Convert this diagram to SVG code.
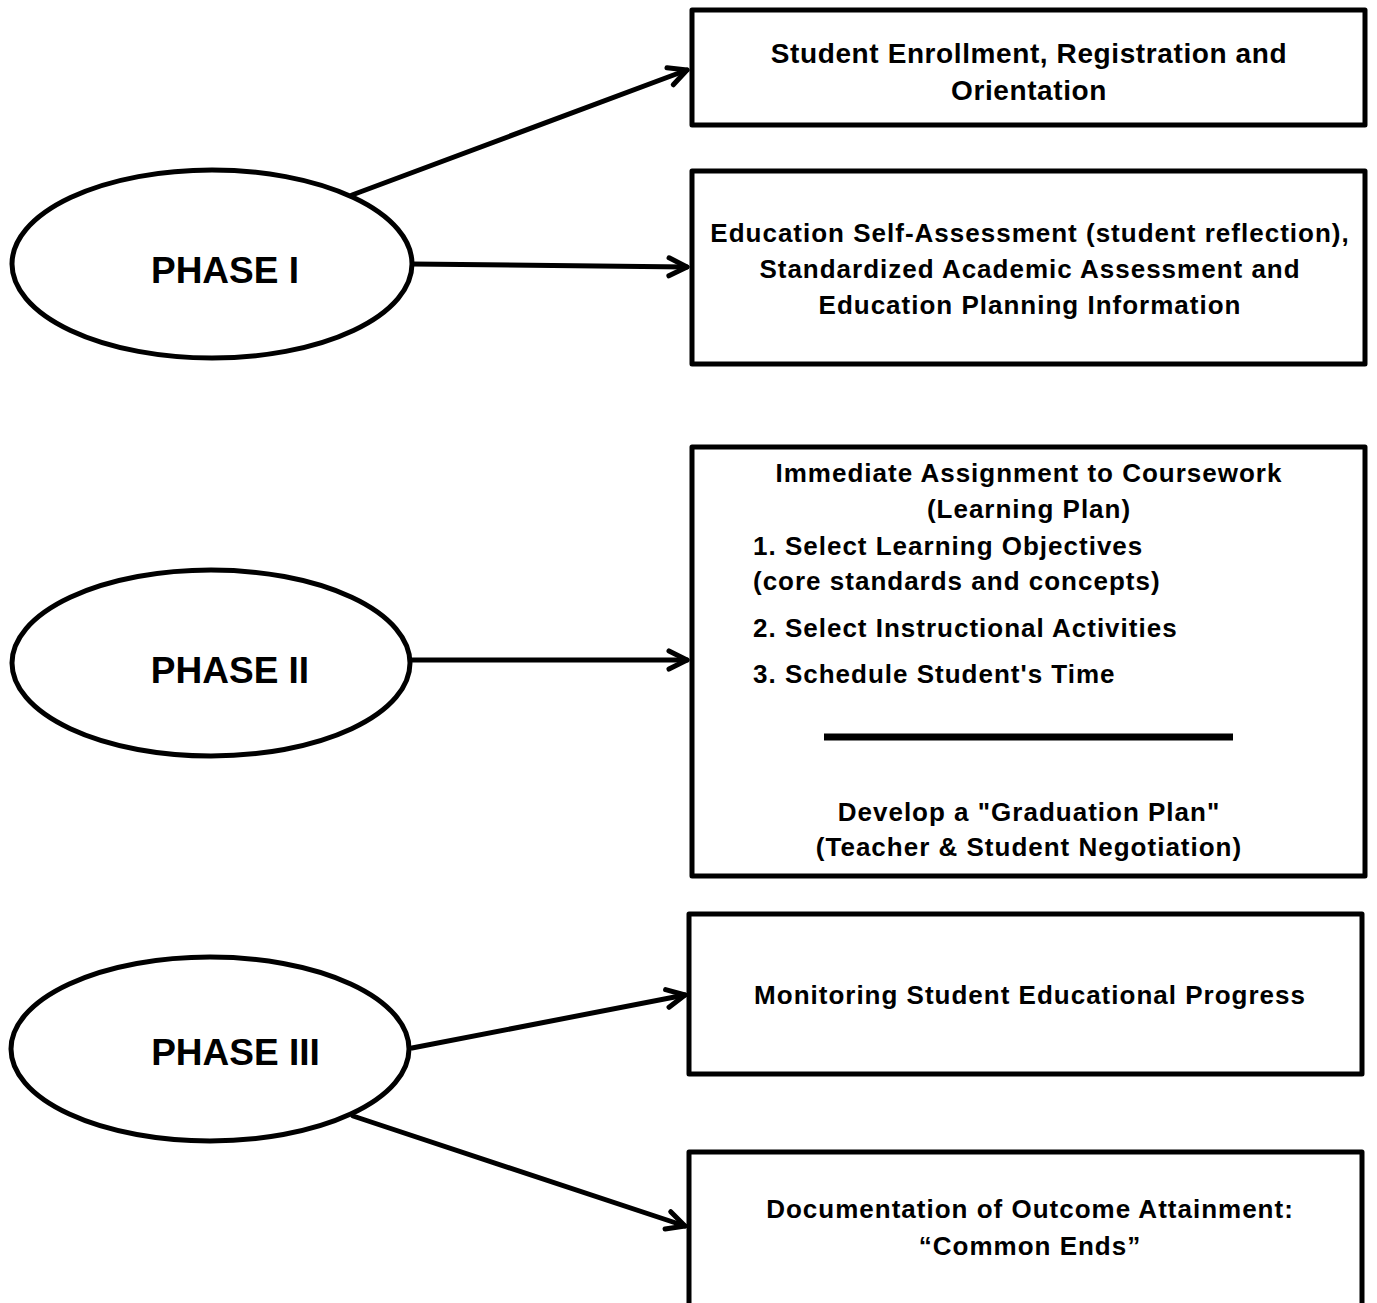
<svg xmlns="http://www.w3.org/2000/svg" width="1377" height="1303" viewBox="0 0 1377 1303">
<defs>
<style>
.box{fill:#fff;stroke:#000;stroke-width:5;stroke-linejoin:round}
.ell{fill:#fff;stroke:#000;stroke-width:5}
.t{font-family:"Liberation Sans",Arial,sans-serif;font-weight:bold;font-size:26px;letter-spacing:1px;fill:#000;text-anchor:middle}
.b1{font-size:28px;letter-spacing:0.6px}
.l{text-anchor:start}
.ph{font-family:"Liberation Sans",Arial,sans-serif;font-weight:bold;font-size:37px;fill:#000;text-anchor:middle}
.c{stroke:#000;stroke-width:5;fill:none;stroke-linecap:round}
</style>
<marker id="ah" markerWidth="10" markerHeight="10" viewBox="0 0 10 10" refX="9" refY="5" orient="auto" markerUnits="userSpaceOnUse" overflow="visible">
<path d="M-10,-5 L0,0 L-10,5" transform="translate(9,5) scale(1.8)" fill="none" stroke="#000" stroke-width="2.8" stroke-linecap="round" stroke-linejoin="round"/>
</marker>
</defs>
<rect width="1377" height="1303" fill="#fff"/>
<g id="connectors">
<line class="c" x1="352" y1="195" x2="687" y2="70" marker-end="url(#ah)"/>
<line class="c" x1="412" y1="264" x2="687" y2="267" marker-end="url(#ah)"/>
<line class="c" x1="412" y1="660" x2="687" y2="660" marker-end="url(#ah)"/>
<line class="c" x1="412" y1="1048" x2="685" y2="995" marker-end="url(#ah)"/>
<line class="c" x1="353" y1="1116" x2="685" y2="1226" marker-end="url(#ah)"/>
</g>
<g id="phase1"><ellipse class="ell" cx="212" cy="264" rx="200" ry="94"/><text class="ph" x="225" y="283">PHASE I</text></g>
<g id="phase2"><ellipse class="ell" cx="211" cy="663" rx="199" ry="93"/><text class="ph" x="230" y="683">PHASE II</text></g>
<g id="phase3"><ellipse class="ell" cx="210" cy="1049" rx="199" ry="92"/><text class="ph" x="235.5" y="1065">PHASE III</text></g>
<g id="box1"><rect class="box" x="692" y="10" width="673" height="115"/>
<text class="t b1" x="1029" y="63">Student Enrollment, Registration and</text>
<text class="t b1" x="1029" y="100">Orientation</text></g>
<g id="box2"><rect class="box" x="692" y="171" width="673" height="193"/>
<text class="t" x="1030" y="242">Education Self-Assessment (student reflection),</text>
<text class="t" x="1030" y="278">Standardized Academic Assessment and</text>
<text class="t" x="1030" y="314">Education Planning Information</text></g>
<g id="box3"><rect class="box" x="692" y="447" width="673" height="429"/>
<text class="t" x="1029" y="482">Immediate Assignment to Coursework</text>
<text class="t" x="1029" y="518">(Learning Plan)</text>
<text class="t l" x="753" y="555">1. Select Learning Objectives</text>
<text class="t l" x="753" y="590">(core standards and concepts)</text>
<text class="t l" x="753" y="637">2. Select Instructional Activities</text>
<text class="t l" x="753" y="683">3. Schedule Student's Time</text>
<line x1="824" y1="737" x2="1233" y2="737" stroke="#000" stroke-width="7"/>
<text class="t" x="1029" y="821">Develop a "Graduation Plan"</text>
<text class="t" x="1029" y="856">(Teacher &amp; Student Negotiation)</text></g>
<g id="box4"><rect class="box" x="689" y="914" width="673" height="160"/>
<text class="t" x="1030" y="1004">Monitoring Student Educational Progress</text></g>
<g id="box5"><rect class="box" x="689" y="1152" width="673" height="170"/>
<text class="t" x="1030" y="1218">Documentation of Outcome Attainment:</text>
<text class="t" x="1030" y="1255">“Common Ends”</text></g>
</svg>
